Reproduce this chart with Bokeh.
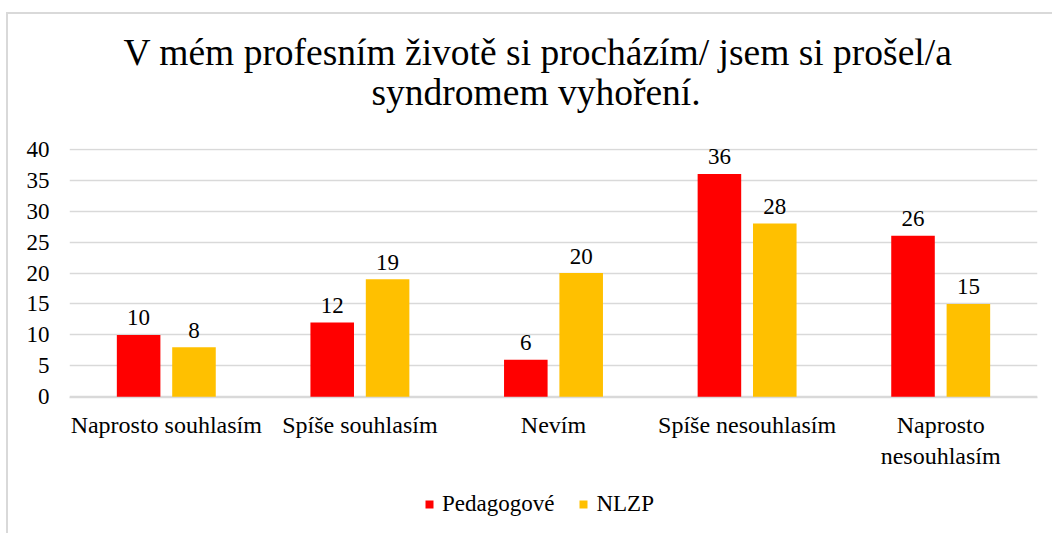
from bokeh.plotting import figure
from bokeh.layouts import column
from bokeh.models import ColumnDataSource, FixedTicker, Legend, LegendItem, Title
from bokeh.core.properties import value
from bokeh.embed import file_html
from bokeh.resources import INLINE

title_lines = ["V mém profesním životě si procházím/ jsem si prošel/a", "syndromem vyhoření."]
categories = ["Naprosto souhlasím", "Spíše souhlasím", "Nevím", "Spíše nesouhlasím", "Naprosto\nnesouhlasím"]
pedagogove = [10, 12, 6, 36, 26]
nlzp = [8, 19, 20, 28, 15]
series_names = ["Pedagogové", "NLZP"]
y_ticks = [0, 5, 10, 15, 20, 25, 30, 35, 40]

FONT = "Liberation Serif"
RED = "#FF0000"
ORANGE = "#FFC000"
GRID = "#D9D9D9"
OFF = 0.143
BW = 0.225

centers = [i + 0.5 for i in range(len(categories))]

src = ColumnDataSource(dict(
    xr=[c - OFF for c in centers],
    xo=[c + OFF for c in centers],
    ped=pedagogove,
    nl=nlzp,
    ped_t=[str(v) for v in pedagogove],
    nl_t=[str(v) for v in nlzp],
))

p = figure(width=1044, height=466, x_range=(0, len(categories)), y_range=(-0.1, 40.1),
           output_backend="svg", toolbar_location=None,
           min_border_left=61, min_border_right=15, min_border_top=134, min_border_bottom=83)

p.title.text = title_lines[0]
t1 = p.title
t2 = Title(text=title_lines[1])
p.add_layout(t2, "above")
for t in (t1, t2):
    t.text_font = FONT
    t.text_font_size = "37.5px"
    t.text_font_style = "normal"
    t.text_color = "black"
    t.align = "left"
t1.offset = 54
t1.standoff = -77
t2.offset = 302
t2.standoff = 71

p.outline_line_color = None
p.background_fill_color = "white"
p.border_fill_color = "white"

p.xgrid.grid_line_color = None
p.ygrid.grid_line_color = GRID
p.ygrid.grid_line_width = 1.5
p.yaxis.ticker = FixedTicker(ticks=y_ticks)
p.xaxis.ticker = FixedTicker(ticks=centers)
p.xaxis.major_label_overrides = {c: lab for c, lab in zip(centers, categories)}

for ax in (p.xaxis[0], p.yaxis[0]):
    ax.major_tick_in = 0
    ax.major_tick_out = 0
    ax.minor_tick_in = 0
    ax.minor_tick_out = 0
    ax.major_label_text_font = FONT
    ax.major_label_text_color = "black"
p.xaxis.major_label_text_font_size = "24px"
p.yaxis.major_label_text_font_size = "23px"

p.yaxis.axis_line_color = None
p.yaxis.major_label_standoff = 20
p.xaxis.axis_line_color = GRID
p.xaxis.axis_line_width = 1.5
p.xaxis.major_label_standoff = 14

p.vbar(x="xr", top="ped", width=BW, bottom=0, source=src, fill_color=RED, line_color=None)
p.vbar(x="xo", top="nl", width=BW, bottom=0, source=src, fill_color=ORANGE, line_color=None)

for xcol, ycol, tcol in (("xr", "ped", "ped_t"), ("xo", "nl", "nl_t")):
    p.text(x=xcol, y=ycol, text=tcol, source=src, text_align="center", text_baseline="alphabetic",
           y_offset=-17, text_font=value(FONT), text_font_size="23px", text_color="black")

# legend strip below the chart (its bars are outside the strip's view; only the legend shows)
p2 = figure(width=1044, height=53, x_range=(0, len(categories)), y_range=(1000, 1001),
            x_axis_type=None, y_axis_type=None,
            output_backend="svg", toolbar_location=None, min_border=0)
p2.outline_line_color = None
p2.background_fill_color = "white"
p2.border_fill_color = "white"
lr1 = p2.vbar(x="xr", top="ped", width=BW, bottom=0, source=src, fill_color=RED, line_color=None)
lr2 = p2.vbar(x="xo", top="nl", width=BW, bottom=0, source=src, fill_color=ORANGE, line_color=None)
legend = Legend(items=[LegendItem(label=series_names[0], renderers=[lr1]),
                       LegendItem(label=series_names[1], renderers=[lr2])],
                orientation="horizontal", location=(355, 16),
                glyph_width=10, glyph_height=10, label_standoff=8, spacing=24, padding=0, margin=0,
                label_text_font=FONT, label_text_font_size="23px", label_text_color="black",
                border_line_color=None, background_fill_alpha=0)
p2.add_layout(legend, "center")

layout = column(p, p2, spacing=0,
                styles={"margin-left": "6px", "margin-top": "12px",
                        "border-left": "2px solid #d9d9d9", "border-top": "2px solid #d9d9d9"})

open("out.html", "w").write(file_html(layout, INLINE))
